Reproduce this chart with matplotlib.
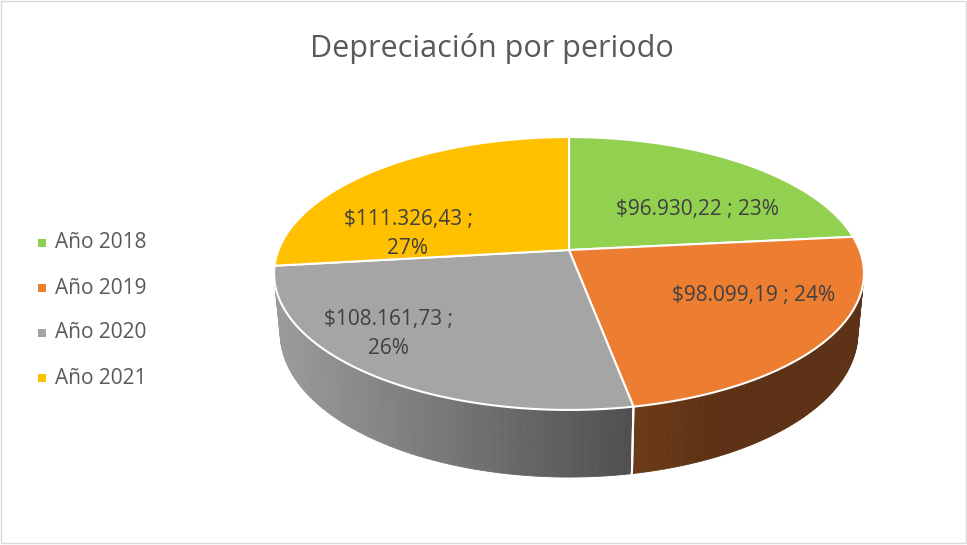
import numpy as np
import matplotlib.pyplot as plt
from matplotlib.patches import Polygon, Rectangle
from matplotlib.colors import to_rgb

# datos del grafico
categorias = ['Año 2018', 'Año 2019', 'Año 2020', 'Año 2021']
valores = [96930.22, 98099.19, 108161.73, 111326.43]
etiquetas = ['$96.930,22 ; 23%', '$98.099,19 ; 24%', '$108.161,73 ;\n26%', '$111.326,43 ;\n27%']
colores = ['#92D050', '#ED7D31', '#A5A5A5', '#FFC000']
titulo = 'Depreciación por periodo'

plt.rcParams['font.family'] = ['Open Sans', 'DejaVu Sans']

# geometria de la proyeccion en perspectiva (pixeles)
cx, cy = 569, 250
sin_a = 0.4557
cos_a = np.sqrt(1 - sin_a ** 2)
D = 5.17
F = 1502
h = 0.233


def proyectar(theta, r=1.0, z=0.0):
    X = r * np.cos(theta)
    Y = r * np.sin(theta)
    prof = D + Y * cos_a - z * sin_a
    up = Y * sin_a + z * cos_a
    return cx + F * X / prof, cy - F * up / prof


fig = plt.figure(figsize=(9.67, 5.45), dpi=100)
ax = fig.add_axes([0, 0, 1, 1])
ax.set_xlim(0, 967)
ax.set_ylim(545, 0)
ax.axis('off')

total = sum(valores)
fracs = [v / total for v in valores]
limites = [90.0]
for f in fracs:
    limites.append(limites[-1] - f * 360)

# parte visible del costado del cilindro
s_lim = -1 / (D * cos_a)
vis_ini = np.degrees(np.arcsin(s_lim))  # ~ -12.5
vis_fin = -180 - vis_ini               # ~ -167.5


def color_lado(i, x):
    if i == 2:
        t = np.clip((x - 280) / (634 - 280), 0, 1)
        c0, c1 = np.array(to_rgb('#9a9a9a')), np.array(to_rgb('#4f4f4f'))
    elif i == 1:
        t = np.clip((x - 634) / (720 - 634), 0, 1)
        c0, c1 = np.array(to_rgb('#6c3a18')), np.array(to_rgb('#5d3115'))
    elif i == 3:
        t = 0
        c0 = c1 = np.array(to_rgb('#8a6a00'))
    else:
        t = 0
        c0 = c1 = np.array(to_rgb('#4d7a2a'))
    return c0 + (c1 - c0) * t


# paredes laterales
for i in range(len(valores)):
    a0, a1 = limites[i], limites[i + 1]
    lo, hi = min(a0, a1), max(a0, a1)
    lo2, hi2 = max(lo, vis_fin), min(hi, vis_ini)
    if lo2 >= hi2:
        continue
    angs = np.linspace(hi2, lo2, 60)
    for k in range(len(angs) - 1):
        t0, t1 = np.radians(angs[k]), np.radians(angs[k + 1])
        p0 = proyectar(t0)
        p1 = proyectar(t1)
        q1 = proyectar(t1, z=-h)
        q0 = proyectar(t0, z=-h)
        col = color_lado(i, (p0[0] + p1[0]) / 2)
        ax.add_patch(Polygon([p0, p1, q1, q0], closed=True, facecolor=col,
                             edgecolor=col, linewidth=0.6, zorder=2))
    # linea blanca entre porciones
    for ang in (hi2, lo2):
        if ang in (hi, lo) and vis_fin < ang < vis_ini:
            pa = proyectar(np.radians(ang))
            pb = proyectar(np.radians(ang), z=-h)
            ax.plot([pa[0], pb[0]], [pa[1], pb[1]], color='white', lw=1.5, zorder=3)

# cara superior
for i in range(len(valores)):
    angs = np.radians(np.linspace(limites[i], limites[i + 1], 200))
    pts = [proyectar(0, r=0)] + [proyectar(t) for t in angs]
    ax.add_patch(Polygon(pts, closed=True, facecolor=colores[i], edgecolor='white',
                         linewidth=1.5, joinstyle='round', zorder=4))

# etiquetas de datos
pos_etiquetas = [(697, 209), (754, 295), (388, 334), (408, 234)]
for txt, (x, y) in zip(etiquetas, pos_etiquetas):
    ax.text(x, y, txt, ha='center', va='center', fontsize=15, color='#404040',
            linespacing=1.55, zorder=6)

# titulo
ax.text(492, 48, titulo, ha='center', va='center', fontsize=22, color='#595959')

# leyenda
for i, cat in enumerate(categorias):
    y = 243 + i * 45
    ax.add_patch(Rectangle((38, y - 4), 8, 8, facecolor=colores[i], edgecolor='none'))
    ax.text(55, y, cat, ha='left', va='center', fontsize=15, color='#595959')

# borde del area del grafico
ax.add_patch(Rectangle((0.5, 0.5), 965, 542, facecolor='none', edgecolor='#d9d9d9', linewidth=1))

fig.savefig('out.png', dpi=100)
